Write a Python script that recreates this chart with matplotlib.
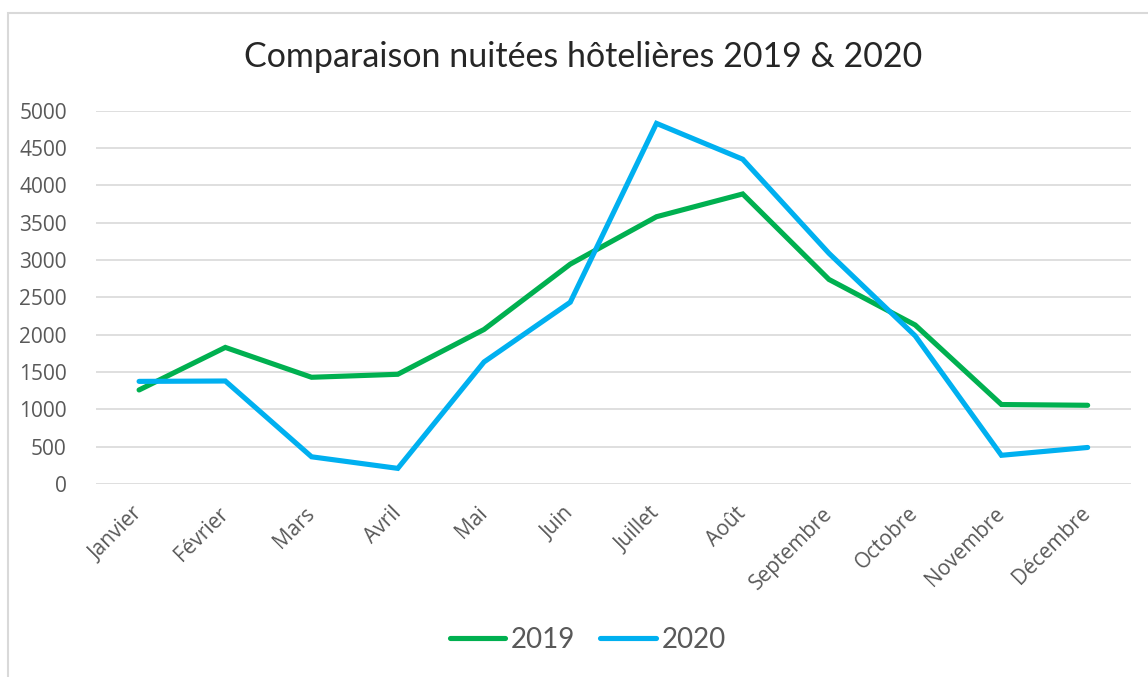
import matplotlib.pyplot as plt
from matplotlib.patches import Rectangle

# Data
mois = ['Janvier', 'Février', 'Mars', 'Avril', 'Mai', 'Juin', 'Juillet',
        'Août', 'Septembre', 'Octobre', 'Novembre', 'Décembre']
nuitees_2019 = [1260, 1830, 1430, 1470, 2070, 2945, 3580, 3885, 2740, 2130, 1065, 1055]
nuitees_2020 = [1375, 1380, 365, 210, 1635, 2435, 4830, 4350, 3090, 1985, 385, 490]
yticks = [0, 500, 1000, 1500, 2000, 2500, 3000, 3500, 4000, 4500, 5000]

plt.rcParams['font.family'] = ['Lato', 'DejaVu Sans']

fig = plt.figure(figsize=(11.48, 6.77), dpi=100)
ax = fig.add_axes([0.0836, 0.285, 0.9014, 0.5515])

x = list(range(len(mois)))
ax.plot(x, nuitees_2019, color='#00B050', lw=3.7, label='2019', solid_capstyle='round', solid_joinstyle='miter')
ax.plot(x, nuitees_2020, color='#00B0F0', lw=3.7, label='2020', solid_capstyle='round', solid_joinstyle='miter')

ax.set_xlim(-0.5, len(mois) - 0.5)
ax.set_ylim(0, 5000)
ax.set_yticks(yticks)
ax.set_xticks(x)
ax.set_xticklabels(mois, rotation=45, ha='right', va='center', rotation_mode='anchor',
                   family=['Open Sans', 'DejaVu Sans'])
for lab in ax.get_yticklabels():
    lab.set_family(['Open Sans', 'DejaVu Sans'])
ax.tick_params(axis='y', length=0, pad=21, labelsize=15, labelcolor='#595959')
ax.tick_params(axis='x', length=0, pad=19, labelsize=15, labelcolor='#595959')
ax.grid(axis='y', color='#D9D9D9', lw=1.2)
ax.set_axisbelow(True)
for s in ax.spines.values():
    s.set_visible(False)

fig.text(0.508, 0.916, 'Comparaison nuitées hôtelières 2019 & 2020',
         ha='center', va='center', fontsize=24.5, color='#262626')

fig.legend(loc='center', bbox_to_anchor=(0.512, 0.055), ncol=2, frameon=False,
           fontsize=20, labelcolor='#595959', handlelength=2.0, handletextpad=0.2,
           columnspacing=0.9)

# chart frame (only left and top edges visible in the image)
fig.patches.append(Rectangle((7.5 / 1148, -0.1), 1.2, 1 - 12.5 / 677 + 0.1,
                             transform=fig.transFigure, fill=False,
                             edgecolor='#D9D9D9', lw=1.5))

plt.savefig('out.png', dpi=100)
